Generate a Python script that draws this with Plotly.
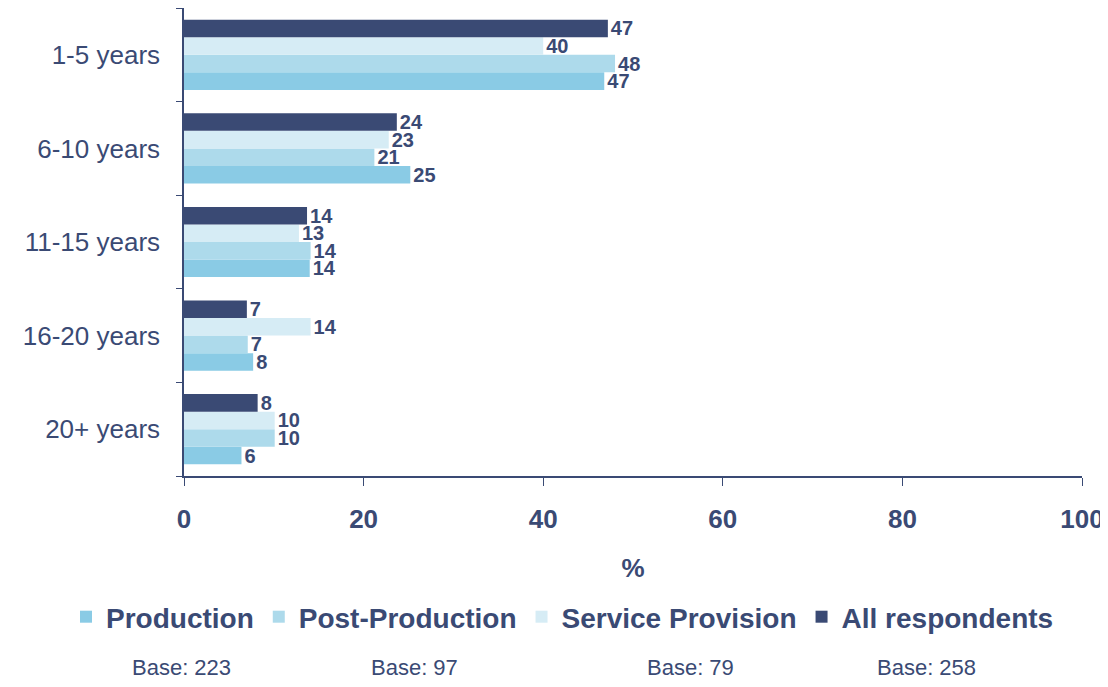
import plotly.graph_objects as go

categories = ["1-5 years", "6-10 years", "11-15 years", "16-20 years", "20+ years"]
production = [46.8, 25.2, 14.0, 7.7, 6.4]
post_production = [48.0, 21.2, 14.1, 7.1, 10.1]
service_provision = [40.0, 22.8, 12.8, 14.1, 10.1]
all_respondents = [47.2, 23.7, 13.7, 7.0, 8.2]
series_names = ["Production", "Post-Production", "Service Provision", "All respondents"]
bases = ["Base: 223", "Base: 97", "Base: 79", "Base: 258"]
x_ticks = [0, 20, 40, 60, 80, 100]

colors = ["#8ACBE5", "#ADDAEB", "#D6ECF5", "#3A4A74"]
navy = "#3A4A74"
font_family = "Arial, Liberation Sans, sans-serif"

fig = go.Figure()
for name, vals, col in zip(series_names,
                           [production, post_production, service_provision, all_respondents],
                           colors):
    fig.add_trace(go.Bar(
        y=categories, x=vals, name=name, orientation="h",
        marker=dict(color=col, line=dict(width=0)),
        text=[f"{v:.0f}" for v in vals], textposition="outside",
        textfont=dict(family=font_family, size=20, color=navy, weight="bold"),
        constraintext="none", cliponaxis=False,
    ))

# page body has an 8px margin: figure is placed at (8, 8)
W, H = 1100, 671
ML, MR, MT = 176, 26, 0
PLOT_BOTTOM = 468
MB = H - PLOT_BOTTOM
plot_h = H - MT - MB
plot_w = W - ML - MR

fig.update_layout(
    width=W, height=H,
    margin=dict(l=ML, r=MR, t=MT, b=MB),
    paper_bgcolor="white", plot_bgcolor="white",
    barmode="group", bargap=0.25, bargroupgap=0,
    font=dict(family=font_family, color=navy),
    showlegend=True,
    legend=dict(orientation="h", x=(58 - ML) / plot_w, xanchor="left",
                y=-(609 - PLOT_BOTTOM) / plot_h, yanchor="middle",
                font=dict(size=28, color=navy, weight="bold"),
                itemwidth=30, tracegroupgap=0),
    xaxis=dict(range=[0, 100], tickvals=x_ticks, showgrid=False, zeroline=False,
               showline=True, linecolor=navy, linewidth=1.5,
               ticks="outside", ticklen=8, tickcolor=navy,
               tickfont=dict(size=26, color=navy, weight="bold"),
               ticklabelstandoff=11,
               title=dict(text="%", font=dict(size=26, color=navy, weight="bold"), standoff=26)),
    yaxis=dict(categoryorder="array", categoryarray=categories[::-1],
               showgrid=False, showline=True, linecolor=navy, linewidth=1.5,
               ticks="outside", ticklen=6, tickcolor=navy, tickson="boundaries",
               tickfont=dict(size=26, color=navy), ticklabelstandoff=17),
)

base_x = [181, 414, 690, 926]
for txt, bx in zip(bases, base_x):
    fig.add_annotation(text=txt, xref="paper", yref="paper",
                       x=(bx - 184) / plot_w, y=-(660 - PLOT_BOTTOM) / plot_h,
                       xanchor="center", yanchor="middle", showarrow=False,
                       font=dict(size=22, color=navy, family=font_family))

fig.write_html("out.html")
